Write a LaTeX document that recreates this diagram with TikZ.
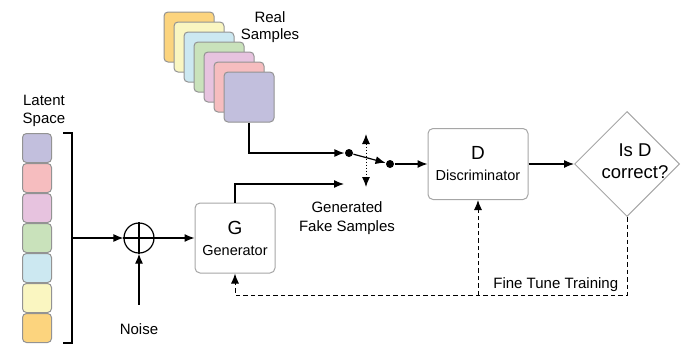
\documentclass[tikz,border=0pt]{standalone}
\usepackage{fontspec}
\setmainfont{Liberation Sans}
\usetikzlibrary{arrows.meta, shapes.geometric, positioning}

\definecolor{cOrange}{HTML}{FCD47E}
\definecolor{cYellow}{HTML}{FAF6C1}
\definecolor{cBlue}{HTML}{CCE8F1}
\definecolor{cGreen}{HTML}{C9E2BB}
\definecolor{cPink}{HTML}{E7C3DF}
\definecolor{cRed}{HTML}{F6BDBF}
\definecolor{cPurple}{HTML}{C2BFDD}

\begin{document}
\begin{tikzpicture}[x=1pt, y=-1pt, line width=1.2pt,
    tile/.style = {draw=gray!85, line width=1pt, rounded corners=4pt, inner sep=0},
    block/.style = {draw=gray!70, line width=1pt, rounded corners=5pt, fill=white, align=center, minimum width=80pt, minimum height=70pt, font=\fontsize{14.5}{21}\selectfont},
    decision/.style = {diamond, draw=gray!70, line width=1pt, aspect=1, inner sep=0, minimum width=105pt, minimum height=105pt},
    dot/.style = {circle, fill, inner sep=0, minimum size=8pt},
    txt/.style = {font=\fontsize{15}{18.5}\selectfont, align=center},
    arr/.style = {-{Latex[length=10pt,width=8pt]}},
    fb/.style = {line width=1pt, dash pattern=on 4.5pt off 3pt}]
    \useasboundingbox (0,0) rectangle (683,346);

    % real samples
    \foreach \c [count=\i from 0] in {cOrange,cYellow,cBlue,cGreen,cPink,cRed,cPurple}
        \node[tile, fill=\c, minimum size=50pt] (s\i) at (189+10*\i, 37+10*\i) {};
    \node[txt, font=\fontsize{15}{17}\selectfont] (reallbl) at (270,27) {Real\\Samples};

    % latent space
    \foreach \c [count=\i from 1] in {cPurple,cRed,cPink,cGreen,cBlue,cYellow,cOrange}
        \node[tile, fill=\c, minimum size=29pt] (l\i) at (37, 118+30*\i) {};
    \node[txt] (latentlbl) at (44,111) {Latent\\Space};
    \coordinate (brk) at ([xshift=20pt]l4.east);
    \draw ([xshift=11pt]l1.north east) -| (brk) |- ([xshift=11pt]l7.south east);

    \node[circle, draw, minimum size=30pt, inner sep=0] (sum) [right of=brk, node distance=67pt] {};
    \draw (sum.north) -- (sum.south) (sum.west) -- (sum.east);
    \node[txt] (noise) [below of=sum, node distance=91pt] {Noise};
    \node[block] (G) [right of=sum, node distance=96pt] {{\fontsize{19}{21}\selectfont G}\\Generator};

    \node[block, minimum width=100pt, minimum height=71pt] (D) at (478,164) {{\fontsize{19}{21}\selectfont D}\\Discriminator};
    \node[decision] (check) [right of=D, node distance=149pt,
        label={[font=\fontsize{18.5}{22}\selectfont, align=center, xshift=8pt, yshift=3pt]center:Is D\\correct?}] {};

    % switch
    \node[dot] (dot1) at (349,153) {};
    \node[dot] (dot2) [left of=D, node distance=88pt] {};
    \coordinate (fakeend) at (344,184);
    \coordinate (swtop) at (366,134);
    \coordinate (swbot) at (366,187);
    \node[txt] (fakelbl) at (347,218) {Generated\\Fake Samples};
    \coordinate[below of=check, node distance=131pt] (ft);

    \path[arr] (brk) edge (sum) (sum) edge (G);
    \draw[arr] ([yshift=15pt]noise.north) -- (sum.south);
    \draw[arr] (s6.south) |- (dot1);
    \draw[arr] (G.north) |- (fakeend);
    \draw[arr] (dot1) -- (dot2);
    \draw[line width=1pt, dotted, {Latex[length=10pt,width=8pt]}-{Latex[length=10pt,width=8pt]}] (swtop) -- (swbot);
    \path[arr] (dot2) edge (D) (D) edge (check);
    \draw[fb, arr] (check.south) -- (ft) node[txt, above left, xshift=-5pt] {Fine Tune Training} -| (G.south);
    \draw[fb, arr] (ft -| D.south) -- (D.south);
\end{tikzpicture}
\end{document}
